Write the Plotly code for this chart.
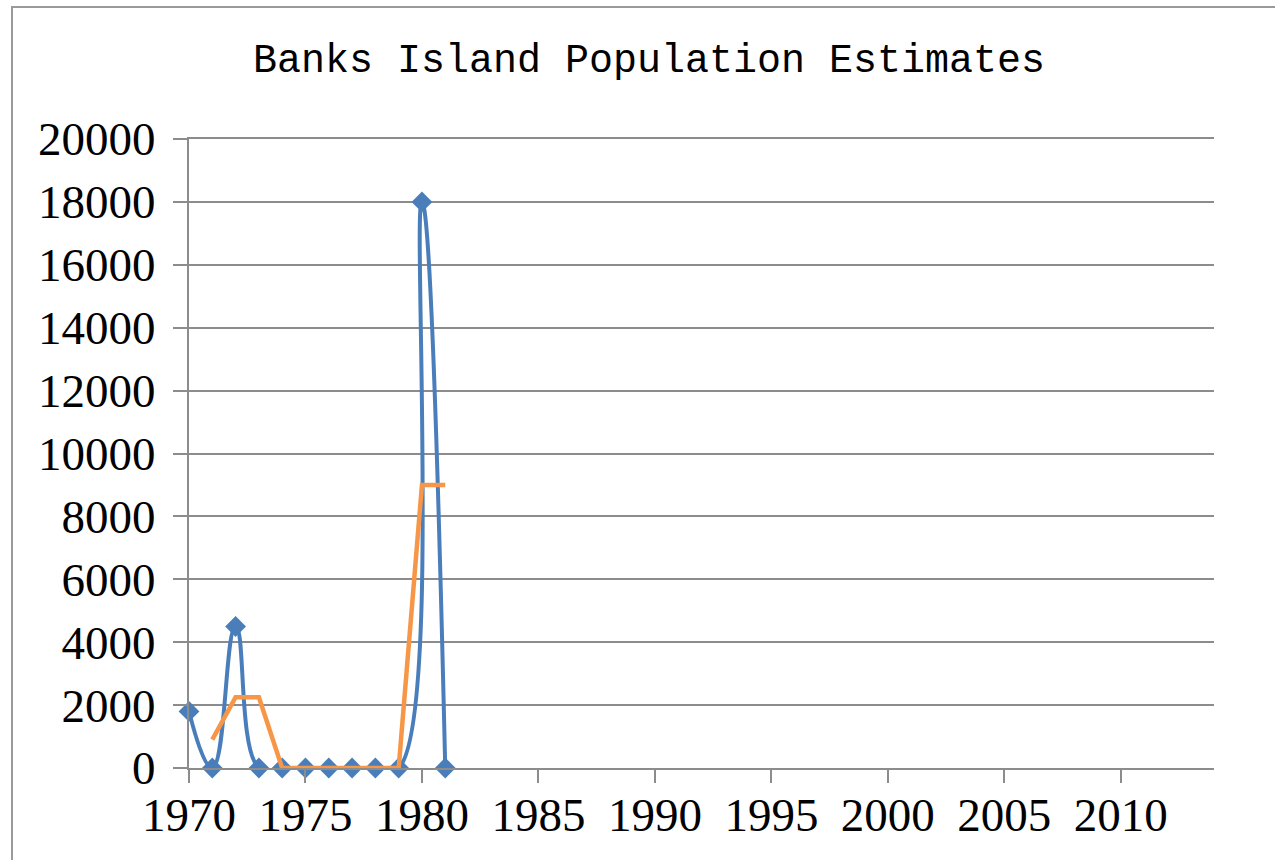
import plotly.graph_objects as go

# Survey years and population estimates
years = [1970, 1971, 1972, 1973, 1974, 1975, 1976, 1977, 1978, 1979, 1980, 1981]
population = [1800, 0, 4500, 0, 0, 0, 0, 0, 0, 0, 18000, 0]

# Two-period moving average trend line
trend_years = [1971, 1972, 1973, 1974, 1975, 1976, 1977, 1978, 1979, 1980, 1981]
trend_values = [900, 2250, 2250, 0, 0, 0, 0, 0, 0, 9000, 9000]

x_ticks = [1970, 1975, 1980, 1985, 1990, 1995, 2000, 2005, 2010]
y_ticks = [0, 2000, 4000, 6000, 8000, 10000, 12000, 14000, 16000, 18000, 20000]

BLUE = "#4A7EBB"
ORANGE = "#F79646"
GRID = "#8C8C8C"

fig = go.Figure()
fig.add_trace(go.Scatter(
    x=years, y=population, mode="lines+markers",
    line=dict(color=BLUE, width=4, shape="spline", smoothing=1.3),
    marker=dict(symbol="diamond", size=16, color=BLUE),
    showlegend=False, cliponaxis=False,
))
fig.add_trace(go.Scatter(
    x=trend_years, y=trend_values, mode="lines",
    line=dict(color=ORANGE, width=4.5),
    showlegend=False, cliponaxis=False,
))

L, R, T, B = 189, 61, 139, 92
W, H = 1275, 860
pw, ph = W - L - R, H - T - B

def px_x(p):
    return (p - L) / pw

def px_y(p):
    return (H - B - p) / ph

tick_font = dict(family="Liberation Serif", size=47, color="black")

fig.update_layout(
    width=W, height=H,
    margin=dict(l=L, r=R, t=T, b=B),
    paper_bgcolor="white", plot_bgcolor="white",
    title=dict(
        text="Banks Island Population Estimates",
        font=dict(family="Liberation Mono", size=40, color="black"),
        x=649 / W, xanchor="center", xref="container",
        y=1 - 58 / H, yanchor="middle", yref="container",
    ),
    xaxis=dict(
        range=[1970, 2014], tickvals=x_ticks, ticktext=[str(v) for v in x_ticks],
        showgrid=False, zeroline=False,
        showline=True, mirror=True, linecolor=GRID, linewidth=2,
        ticks="", tickfont=tick_font, ticklabelstandoff=5,
        minor=dict(tickvals=x_ticks, ticks="outside", ticklen=13,
                   tickwidth=2, tickcolor=GRID, showgrid=False),
    ),
    yaxis=dict(
        range=[0, 20000], tickvals=y_ticks, ticktext=[str(v) for v in y_ticks],
        showgrid=True, gridcolor=GRID, gridwidth=2, zeroline=False,
        showline=True, linecolor=GRID, linewidth=2,
        ticks="outside", ticklen=14, tickwidth=2, tickcolor=GRID,
        tickfont=tick_font, ticklabelstandoff=8,
    ),
    shapes=[
        dict(type="rect", xref="paper", yref="paper",
             x0=px_x(12), x1=px_x(W + 40), y0=px_y(H + 40), y1=px_y(7),
             line=dict(color="#9A9A9A", width=2), fillcolor="rgba(0,0,0,0)",
             layer="below"),
    ],
)

fig.write_html("out.html")
